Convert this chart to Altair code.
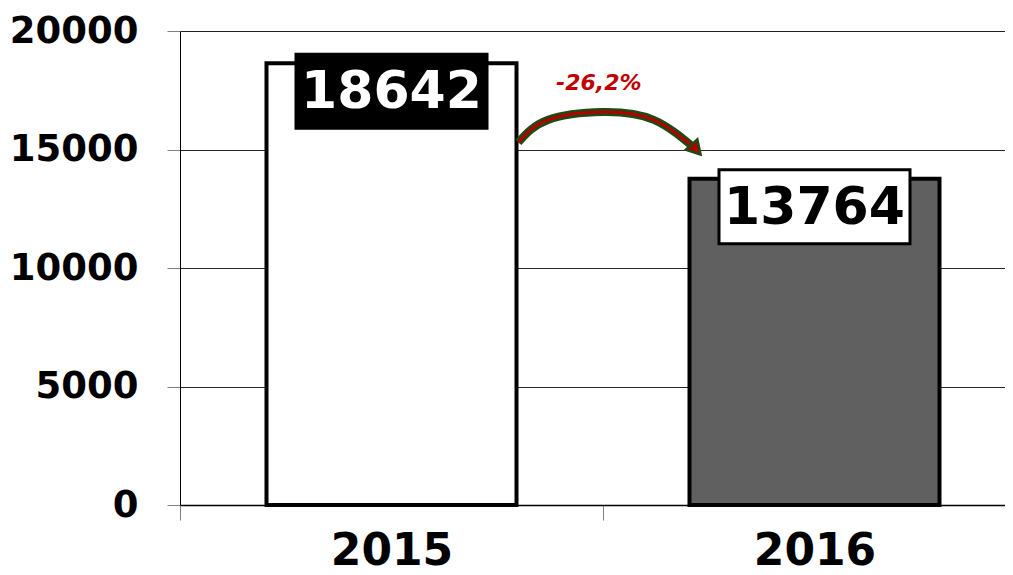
import altair as alt
import pandas as pd

# ---- data ----
years = ["2015", "2016"]
values = [18642, 13764]
bar_fills = ["#ffffff", "#606060"]
box_fills = ["#000000", "#ffffff"]
text_colors = ["#ffffff", "#000000"]
y_ticks = [0, 5000, 10000, 15000, 20000]

change_label = ["-26,2%"]
change_pos_x = [0.99]        # in category units (0 = left edge of first category)
change_pos_y = [17800]

arrow_x = [0.80, 0.87, 1.00, 1.12, 1.22]
arrow_y = [15300, 16250, 16580, 16250, 15000]

bars = pd.DataFrame({"year": years, "value": values, "fill": bar_fills,
                     "box": box_fills, "tcol": text_colors})
arrow = pd.DataFrame({"cx": arrow_x, "v": arrow_y, "order": list(range(len(arrow_x)))})
head = pd.DataFrame({"cx": [arrow_x[-1]], "v": [arrow_y[-1]]})
lab = pd.DataFrame({"cx": change_pos_x, "v": change_pos_y, "t": change_label})

FONT = "DejaVu Sans"
PLOT_W = 825
STEP_RANGE = [0, 846]

xband = alt.X("year:N", sort=years,
              scale=alt.Scale(range=STEP_RANGE, paddingInner=0, paddingOuter=0),
              axis=alt.Axis(title=None, labelAngle=0, labelFontSize=44, labelFont=FONT,
                            labelFontWeight="bold", labelColor="#000000", labelPadding=9,
                            tickBand="extent", tickSize=15, tickColor="#808080",
                            domainColor="#000000", domainWidth=1.5, grid=False))
yq = alt.Y("value:Q", scale=alt.Scale(domain=[0, 20000], nice=False),
           axis=alt.Axis(title=None, values=y_ticks, format="d", labelFontSize=37,
                         labelFont=FONT, labelFontWeight="bold", labelColor="#000000",
                         labelPadding=29, tickSize=13, tickColor="#808080",
                         domainColor="#000000", gridColor="#000000", gridWidth=1,
                         gridOpacity=0.85))

bar_layer = alt.Chart(bars).mark_bar(stroke="#000000", strokeWidth=4, width=250).encode(
    x=xband, y=yq,
    fill=alt.Fill("fill:N", scale=None, legend=None))

box_path = "M-1,-0.3874L1,-0.3874L1,0.3874L-1,0.3874Z"
box_layer = alt.Chart(bars).mark_point(shape=box_path, size=191 * 191, filled=True,
                                       opacity=1, stroke="#000000", strokeWidth=3,
                                       yOffset=28).encode(
    x=alt.X("year:N", sort=years), y="value:Q",
    fill=alt.Fill("box:N", scale=None, legend=None))

text_layer = alt.Chart(bars).mark_text(font=FONT, fontWeight="bold", fontSize=52,
                                       baseline="middle", align="center", yOffset=29).encode(
    x=alt.X("year:N", sort=years), y="value:Q",
    text="value:Q",
    color=alt.Color("tcol:N", scale=None, legend=None))

xq_scale = alt.Scale(domain=[0, 2], range=STEP_RANGE)
ax_none = alt.X("cx:Q", scale=xq_scale, axis=None)
ay_none = alt.Y("v:Q", scale=alt.Scale(domain=[0, 20000], nice=False), axis=None)

arrow_outer = alt.Chart(arrow).mark_line(color="#1f4a12", strokeWidth=8,
                                         interpolate="natural", strokeCap="butt").encode(
    x=ax_none, y=ay_none, order="order:Q")
arrow_inner = alt.Chart(arrow).mark_line(color="#b00000", strokeWidth=3,
                                         interpolate="natural", strokeCap="butt").encode(
    x=ax_none, y=ay_none, order="order:Q")
arrow_head = alt.Chart(head).mark_point(shape="triangle-down", size=240, filled=True,
                                        opacity=1, fill="#b00000", stroke="#1f4a12",
                                        strokeWidth=2.5, angle=318).encode(
    x=ax_none, y=ay_none)
change_text = alt.Chart(lab).mark_text(font=FONT, fontWeight="bold", fontStyle="italic",
                                       fontSize=22, color="#c00000", baseline="middle",
                                       align="center").encode(
    x=ax_none, y=ay_none, text="t:N")

base = alt.layer(bar_layer, box_layer, text_layer)
ann = alt.layer(arrow_outer, arrow_inner, arrow_head, change_text)

chart = alt.layer(base, ann).resolve_scale(x="independent", y="independent").properties(
    width=PLOT_W, height=474,
    autosize=alt.AutoSizeParams(type="none"),
    padding={"left": 172, "top": 23, "right": 0, "bottom": 63},
).configure_view(stroke=None).configure(background="#ffffff")

chart.save("out.html", embed_options={"renderer": "svg", "actions": False})
